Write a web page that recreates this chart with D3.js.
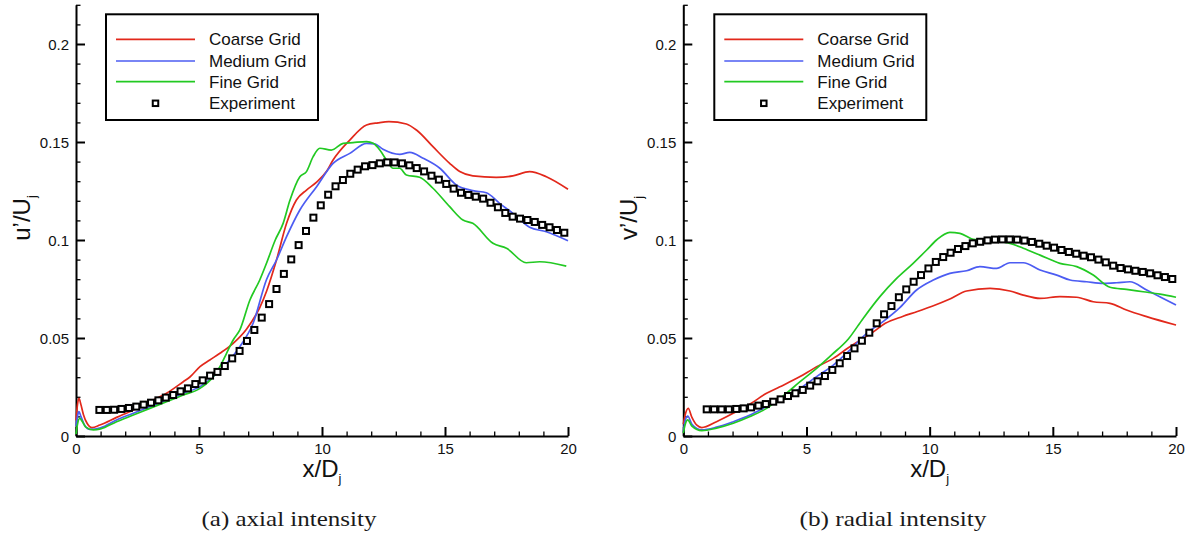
<!DOCTYPE html>
<html>
<head>
<meta charset="utf-8">
<script src="https://cdn.jsdelivr.net/npm/d3@7"></script>
<style>
  body { margin: 0; background: #fff; }
  svg { display: block; }
</style>
</head>
<body>
<svg id="chart" width="1190" height="535"></svg>
<script>
// ---- tick labels -------------------------------------------------------
const xTicks = [0, 5, 10, 15, 20];
const yTicks = [0, 0.05, 0.1, 0.15, 0.2];

// ---- legend entries ----------------------------------------------------
const seriesNames = ["Coarse Grid", "Medium Grid", "Fine Grid", "Experiment"];
const seriesColors = ["#e2281b", "#4c5cf2", "#22c922", "#000000"];

// ---- experimental data (both panels share the same stations) -----------
const expX = [0.95,1.25,1.55,1.85,2.15,2.45,2.75,3.05,3.35,3.65,3.95,4.25,4.55,4.85,5.15,5.45,
  5.75,6.05,6.35,6.65,6.95,7.25,7.55,7.85,8.15,8.45,8.75,9.05,9.35,9.65,9.95,10.25,
  10.55,10.85,11.15,11.45,11.75,12.05,12.35,12.65,12.95,13.25,13.55,13.85,14.15,14.45,14.75,15.05,
  15.35,15.65,15.95,16.25,16.55,16.85,17.15,17.45,17.75,18.05,18.35,18.65,18.95,19.25,19.55,19.85];

const axialExp = [0.0133,0.0133,0.0134,0.0138,0.0143,0.0150,0.0160,0.0170,0.0182,0.0196,
  0.0209,0.0228,0.0243,0.0265,0.0284,0.0308,0.0327,0.0357,0.0396,0.0434,
  0.0485,0.0541,0.0604,0.0673,0.0750,0.0827,0.0901,0.0974,0.1046,0.1114,
  0.1177,0.1231,0.1274,0.1306,0.1338,0.1359,0.1376,0.1382,0.1391,0.1396,
  0.1396,0.1391,0.1381,0.1367,0.1350,0.1328,0.1308,0.1286,0.1262,0.1241,
  0.1230,0.1221,0.1211,0.1190,0.1167,0.1138,0.1119,0.1109,0.1102,0.1092,
  0.1077,0.1065,0.1051,0.1037];

const radialExp = [0.0136,0.0136,0.0136,0.0136,0.0138,0.0141,0.0146,0.0155,0.0163,0.0175,
  0.0187,0.0204,0.0218,0.0235,0.0257,0.0279,0.0306,0.0337,0.0371,0.0408,
  0.0447,0.0486,0.0527,0.0575,0.0621,0.0663,0.0708,0.0748,0.0787,0.0821,
  0.0855,0.0888,0.0913,0.0935,0.0954,0.0969,0.0983,0.0991,0.0998,0.1002,
  0.1003,0.1003,0.1002,0.0997,0.0990,0.0981,0.0971,0.0961,0.0949,0.0939,
  0.0930,0.0920,0.0912,0.0900,0.0886,0.0869,0.0857,0.0850,0.0843,0.0837,
  0.0830,0.0820,0.0811,0.0801];

// ---- axial intensity, simulations ---------------------------------------
const axialCoarseX = [0,0.06,0.12,0.2,0.3,0.45,0.65,0.97,1.65,2.33,3.0,3.68,4.36,4.63,5.04,5.44,5.85,
  6.39,6.93,7.47,7.75,8.15,8.56,8.96,9.37,9.78,10.18,10.45,11.13,11.81,12.28,12.72,13.43,13.84,
  14.51,15.19,15.6,16.13,17.08,17.76,18.44,19.12,20];
const axialCoarse = [0.008,0.016,0.0192,0.016,0.011,0.0065,0.0043,0.0056,0.0095,0.0133,0.0175,0.0218,0.0277,0.0301,0.0354,0.0388,0.0422,
  0.0473,0.0545,0.0655,0.0740,0.0898,0.1085,0.1204,0.1255,0.1295,0.1349,0.1408,0.1510,0.1587,0.1598,0.1604,0.1592,0.1561,
  0.1476,0.1391,0.1349,0.1327,0.1320,0.1327,0.1349,0.1323,0.1259];

const axialMediumX = [0,0.06,0.12,0.2,0.35,0.57,1.0,1.65,2.33,3.0,3.68,4.36,5.04,5.58,6.12,6.66,7.2,
  7.75,8.15,8.56,9.1,9.78,10.45,11.13,11.81,12.14,12.48,13.16,13.57,14.11,14.79,15.46,16.13,16.68,
  17.22,17.76,18.44,19.12,20];
const axialMedium = [0.005,0.010,0.0124,0.010,0.0055,0.0034,0.0042,0.0082,0.0116,0.0150,0.0184,0.0218,0.0252,0.0303,0.0371,0.0456,0.0575,
  0.0800,0.0898,0.1017,0.1153,0.1272,0.1391,0.1442,0.1493,0.1490,0.1463,0.1437,0.1447,0.1417,0.1366,0.1281,0.1252,0.1241,
  0.1187,0.1136,0.1065,0.1042,0.0996];

const axialFineX = [0,0.06,0.15,0.25,0.4,0.7,1.0,1.65,2.33,3.0,3.68,4.36,5.04,5.58,5.85,6.12,6.39,6.66,
  7.07,7.47,7.74,8.1,8.42,8.69,9.1,9.37,9.64,9.91,10.38,10.86,11.26,11.81,12.08,12.35,12.62,12.89,
  13.16,13.43,13.97,14.51,15.19,15.73,16.13,16.95,17.5,18.3,18.85,19.93];
const axialFine = [0.001,0.006,0.009,0.0075,0.0045,0.0031,0.0036,0.0073,0.0107,0.0141,0.0175,0.0209,0.0243,0.0303,0.0354,0.0422,0.0490,0.0541,
  0.0694,0.0796,0.0880,0.1000,0.1085,0.1200,0.1323,0.1349,0.1425,0.1468,0.1459,0.1493,0.1497,0.1502,0.1493,0.1459,0.1408,0.1366,
  0.1366,0.1332,0.1320,0.1264,0.1170,0.1102,0.1085,0.0983,0.0958,0.0884,0.0889,0.0867];

// ---- radial intensity, simulations --------------------------------------
const radialCoarseX = [0,0.08,0.2,0.35,0.55,0.75,1.35,2.03,2.71,3.38,3.9,4.74,5.3,6.09,6.7,7.7,8.2,8.9,
  9.5,10.1,10.82,11.5,12.45,13.26,13.8,14.48,15.29,15.97,16.64,17.32,17.99,18.81,20];
const radialCoarse = [0.006,0.011,0.0141,0.0095,0.0055,0.0043,0.0073,0.0116,0.0163,0.0218,0.0250,0.0303,0.0345,0.0396,0.0450,0.0530,0.0575,0.0610,
  0.0635,0.0662,0.0699,0.0740,0.0753,0.0740,0.0719,0.0702,0.0711,0.0708,0.0685,0.0677,0.0643,0.0609,0.0566];

const radialMediumX = [0,0.08,0.18,0.35,0.75,1.35,2.03,2.71,3.38,4.06,4.74,5.41,6.09,6.77,7.44,8.12,
  8.79,9.47,10.15,10.82,11.5,12.04,12.72,13.26,13.8,14.48,15.16,15.7,16.37,17.05,17.59,18.13,18.81,19.48,20];
const radialMedium = [0.002,0.008,0.0102,0.006,0.0031,0.0045,0.0073,0.0107,0.0150,0.0195,0.0243,0.0303,0.0362,0.0439,0.0524,0.0585,
  0.0655,0.0745,0.0796,0.0830,0.0843,0.0864,0.0855,0.0884,0.0884,0.0847,0.0821,0.0796,0.0787,0.0779,0.0782,0.0787,0.0745,0.0702,0.0668];

const radialFineX = [0,0.08,0.18,0.35,0.75,1.35,2.03,2.71,3.38,4.06,4.74,5.41,6.02,6.7,7.3,7.98,8.66,
  9.33,9.88,10.28,10.82,11.23,11.77,12.45,13.26,13.8,14.48,15.29,15.97,16.64,17.32,17.99,18.67,19.35,20];
const radialFine = [0.0015,0.006,0.0082,0.005,0.0027,0.0040,0.0065,0.0099,0.0141,0.0205,0.0277,0.0345,0.0414,0.0495,0.0600,0.0711,0.0804,
  0.0881,0.0949,0.1000,0.1039,0.1034,0.1003,0.0996,0.0983,0.0958,0.0923,0.0881,0.0864,0.0821,0.0759,0.0748,0.0736,0.0724,0.0708];

// ---- panel definitions --------------------------------------------------
const panels = [
  {
    left: 76, right: 568, ylab: "u’/U", caption: "(a) axial intensity", captionX: 289, captionW: 175,
    sims: [[axialCoarseX, axialCoarse], [axialMediumX, axialMedium], [axialFineX, axialFine]],
    exp: axialExp, legendX: 106
  },
  {
    left: 683.3, right: 1176, ylab: "v’/U", caption: "(b) radial intensity", captionX: 893, captionW: 187,
    sims: [[radialCoarseX, radialCoarse], [radialMediumX, radialMedium], [radialFineX, radialFine]],
    exp: radialExp, legendX: 714.3
  }
];

const svg = d3.select("#chart");
const y0 = 436, yTop = 4.8;
const font = "'Liberation Sans', Arial, Helvetica, sans-serif";

panels.forEach(p => {
  const x = d3.scaleLinear().domain([0, 20]).range([p.left, p.right]);
  const y = d3.scaleLinear().domain([0, 0.22]).range([y0, yTop]);
  const g = svg.append("g");

  // minor ticks
  g.append("g")
    .attr("transform", `translate(0,${y0})`)
    .call(d3.axisBottom(x).tickValues(d3.range(0, 21, 1).filter(v => v % 5 !== 0))
      .tickSize(-4.5).tickSizeOuter(0).tickFormat(""))
    .call(s => s.select(".domain").remove())
    .selectAll("line").attr("stroke", "#000").attr("stroke-width", 1.3);
  g.append("g")
    .attr("transform", `translate(${p.left},0)`)
    .call(d3.axisLeft(y).tickValues(d3.range(1, 23, 1).filter(v => v % 5 !== 0).map(v => v / 100))
      .tickSize(-4.5).tickSizeOuter(0).tickFormat(""))
    .call(s => s.select(".domain").remove())
    .selectAll("line").attr("stroke", "#000").attr("stroke-width", 1.3);

  // major axes
  const xa = g.append("g")
    .attr("transform", `translate(0,${y0})`)
    .call(d3.axisBottom(x).tickValues(xTicks).tickSize(-9).tickSizeOuter(0).tickPadding(7).tickFormat(d => String(d)));
  const ya = g.append("g")
    .attr("transform", `translate(${p.left},0)`)
    .call(d3.axisLeft(y).tickValues(yTicks).tickSize(-9).tickSizeOuter(0).tickPadding(7).tickFormat(d => String(d)));
  [xa, ya].forEach(a => {
    a.select(".domain").attr("stroke", "#000").attr("stroke-width", 2);
    a.selectAll(".tick line").attr("stroke", "#000").attr("stroke-width", 2);
    a.selectAll("text").attr("fill", "#111").style("font-family", font).style("font-size", "15px");
  });
  ya.selectAll("text").attr("dy", "0.36em");

  // simulation curves
  const line = d3.line().x(d => x(d[0])).y(d => y(d[1])).curve(d3.curveMonotoneX);
  p.sims.forEach(([xs, ys], i) => {
    g.append("path")
      .datum(xs.map((v, k) => [v, ys[k]]))
      .attr("d", line)
      .attr("fill", "none")
      .attr("stroke", seriesColors[i])
      .attr("stroke-width", 1.7)
      .attr("stroke-linejoin", "round");
  });

  // experimental points
  const ms = 6;
  g.append("g").selectAll("rect")
    .data(expX.map((v, k) => [v, p.exp[k]]))
    .join("rect")
    .attr("x", d => x(d[0]) - ms / 2)
    .attr("y", d => y(d[1]) - ms / 2)
    .attr("width", ms).attr("height", ms)
    .attr("fill", "#fff").attr("stroke", "#000").attr("stroke-width", 2);

  // legend
  const lg = g.append("g").attr("transform", `translate(${p.legendX},14.3)`);
  lg.append("rect").attr("width", 212).attr("height", 105.7)
    .attr("fill", "#fff").attr("stroke", "#000").attr("stroke-width", 2);
  const rowY = [25, 46.7, 67.4, 89];
  seriesNames.forEach((name, i) => {
    if (i < 3) {
      lg.append("line").attr("x1", 10).attr("x2", 89).attr("y1", rowY[i]).attr("y2", rowY[i])
        .attr("stroke", seriesColors[i]).attr("stroke-width", 1.7);
    } else {
      lg.append("rect").attr("x", 49.5 - 2.75).attr("y", rowY[i] - 2.75)
        .attr("width", 5.5).attr("height", 5.5)
        .attr("fill", "#fff").attr("stroke", "#000").attr("stroke-width", 2);
    }
    lg.append("text").attr("x", 103).attr("y", rowY[i] + 6)
      .style("font-family", font).style("font-size", "17px").attr("fill", "#111")
      .text(name);
  });

  // axis titles
  const xt = g.append("text")
    .attr("x", (p.left + p.right) / 2).attr("y", 477)
    .attr("text-anchor", "middle")
    .style("font-family", font).style("font-size", "24px").attr("fill", "#111");
  xt.append("tspan").text("x/D");
  xt.append("tspan").attr("dy", 6).style("font-size", "13px").text("j");

  const yt = g.append("text")
    .attr("transform", `translate(${p.left - 46},218) rotate(-90)`)
    .attr("text-anchor", "middle")
    .style("font-family", font).style("font-size", "24px").attr("fill", "#111");
  yt.append("tspan").text(p.ylab);
  yt.append("tspan").attr("dy", 6).style("font-size", "13px").text("j");

  // sub-figure caption
  svg.append("text")
    .attr("x", p.captionX).attr("y", 526)
    .attr("text-anchor", "middle")
    .attr("textLength", p.captionW)
    .attr("lengthAdjust", "spacingAndGlyphs")
    .style("font-family", "'Liberation Serif', 'Times New Roman', serif")
    .style("font-size", "21px").attr("fill", "#1a1a1a")
    .text(p.caption);
});
</script>
</body>
</html>
